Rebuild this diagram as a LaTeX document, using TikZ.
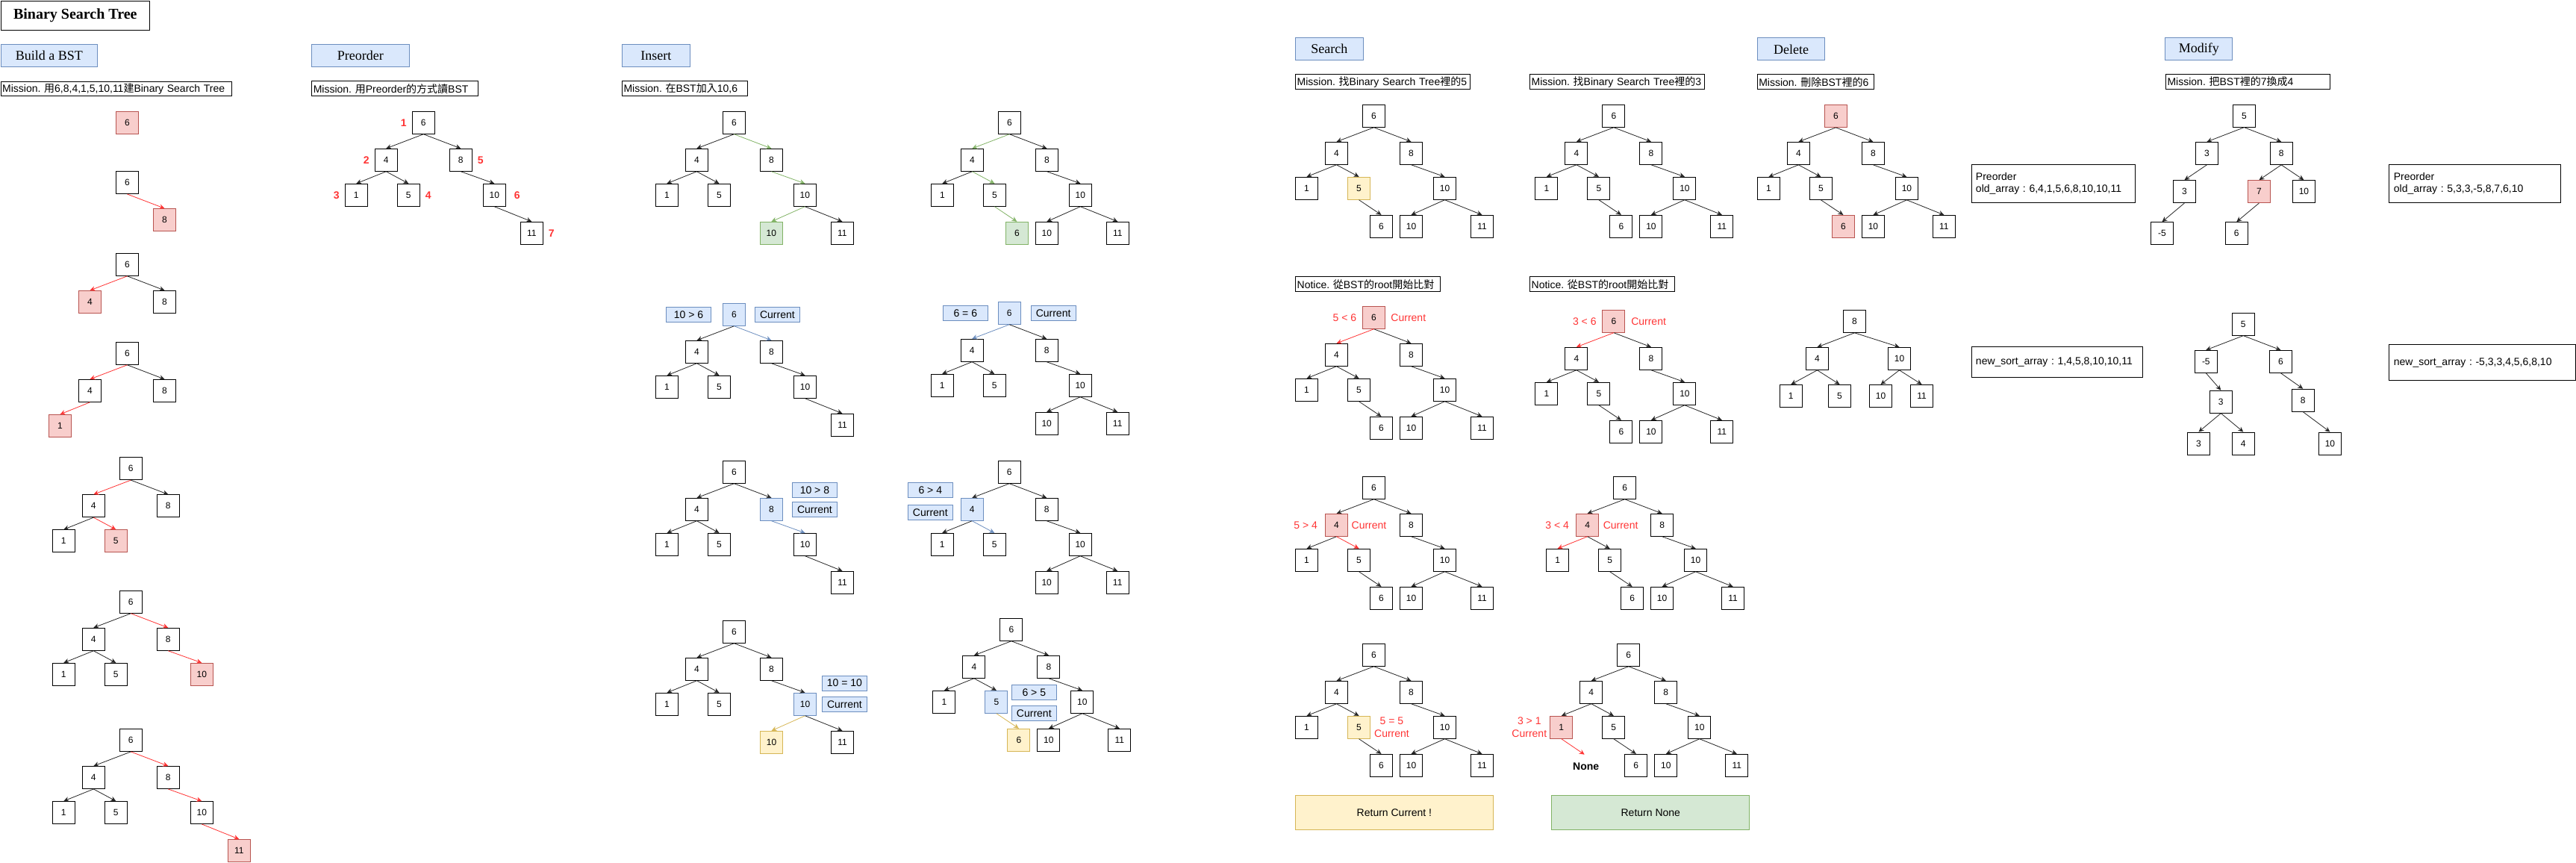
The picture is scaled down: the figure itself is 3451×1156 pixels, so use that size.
\documentclass[tikz,border=0pt]{standalone}
\usepackage{fontspec}
\setmainfont{Liberation Sans}
\newfontfamily\serif{Liberation Serif}
\newfontfamily\cjk{Noto Sans CJK TC}
\usepackage{xcolor}
\usetikzlibrary{arrows.meta,positioning}
\frenchspacing

\definecolor{bluefill}{HTML}{DAE8FC}
\definecolor{blueline}{HTML}{6C8EBF}
\definecolor{redfill}{HTML}{F8CECC}
\definecolor{redline}{HTML}{B85450}
\definecolor{greenfill}{HTML}{D5E8D4}
\definecolor{greenline}{HTML}{82B366}
\definecolor{yellowfill}{HTML}{FFF2CC}
\definecolor{yellowline}{HTML}{D6B656}
\definecolor{hot}{HTML}{FF3333}

\newcommand{\zh}[1]{{\cjk #1}}

\begin{document}
\begin{tikzpicture}[x=1pt,y=-1pt,>={Stealth[length=7pt,width=6.5pt]},
   font=\fontsize{12}{14}\selectfont,
   nd/.style={draw,line width=0.9pt,minimum size=30pt,inner sep=0pt},
   ndr/.style={nd,fill=redfill,draw=redline},
   ndg/.style={nd,fill=greenfill,draw=greenline},
   ndb/.style={nd,fill=bluefill,draw=blueline},
   ndy/.style={nd,fill=yellowfill,draw=yellowline},
   ed/.style={->,line width=0.8pt,black!85},
   edr/.style={ed,hot},
   edg/.style={ed,greenline},
   edb/.style={ed,blueline},
   edy/.style={ed,yellowline},
   hdr/.style={draw=blueline,fill=bluefill,line width=0.9pt,anchor=north west,minimum width=#1,
     minimum height=30pt,inner sep=0pt,font=\serif\fontsize{18}{20}\selectfont},
   mission/.style={draw,line width=0.9pt,anchor=north west,minimum height=20pt,inner xsep=2pt,
     inner ysep=0pt,text width=#1,align=left,font=\fontsize{14}{16}\selectfont},
   infobox/.style={draw,line width=0.9pt,anchor=north west,inner xsep=6pt,inner ysep=0pt,
     text width=#1,align=left,font=\fontsize{14}{16}\selectfont},
   cmp/.style={draw=blueline,fill=bluefill,line width=0.9pt,minimum width=60pt,minimum height=20pt,
     inner sep=0pt,font=\fontsize{14}{16}\selectfont},
   rnote/.style={text=hot,inner sep=0pt,font=\fontsize{14}{16.7}\selectfont,align=center},
   ordnum/.style={text=hot,inner sep=0pt,font=\bfseries\fontsize{14}{16}\selectfont},
   retbox/.style={line width=0.9pt,minimum width=265pt,minimum height=46pt,inner sep=0pt,
     font=\fontsize{14}{16}\selectfont}]
\useasboundingbox (0,0) rectangle (3451,1156);

\node[draw,line width=0.9pt,anchor=north west,minimum width=199.3pt,minimum height=39.2pt,inner sep=0pt,
  font=\serif\bfseries\fontsize{20}{22}\selectfont] (title) at (0.7,0.8) {Binary Search Tree};

% Build a BST
\node[hdr=129.6] (h-build) at (0.7,59.3) {Build a BST};
\node[mission=305.6,minimum height=19.5pt] (m-build) at (0.7,108.7)
  {Mission. \zh{用}6,8,4,1,5,10,11\zh{建}Binary Search Tree};
\begin{scope}[shift={(170.5,164.2)}]
  \node[ndr] (b1-r) at (0,0) {6};
\end{scope}
\begin{scope}[shift={(170.5,244.6)}]
  \node[nd]  (b2-r) at (0,0)   {6};
  \node[ndr] (b2-g) at (50,50) {8};
\end{scope}
\draw[edr] (b2-r.south) -- (b2-g.north);
\begin{scope}[shift={(170.5,354.4)}]
  \node[nd]  (b3-r) at (0,0)    {6};
  \node[ndr] (b3-l) at (-50,50) {4};
  \node[nd]  (b3-g) at (50,50)  {8};
\end{scope}
\foreach \p/\c/\s in {r/l/edr,r/g/ed}
  \draw[\s] (b3-\p.south) -- (b3-\c.north);
\begin{scope}[shift={(170.5,473.4)}]
  \node[nd]  (b4-r)  at (0,0)    {6};
  \node[nd]  (b4-l)  at (-50,50) {4};
  \node[nd]  (b4-g)  at (50,50)  {8};
  \node[ndr] (b4-ll) at (-90,97) {1};
\end{scope}
\foreach \p/\c/\s in {r/l/edr,r/g/ed,l/ll/edr}
  \draw[\s] (b4-\p.south) -- (b4-\c.north);
\begin{scope}[shift={(175.3,627.7)}]
  \node[nd]  (b5-r)  at (0,0)    {6};
  \node[nd]  (b5-l)  at (-50,50) {4};
  \node[nd]  (b5-g)  at (50,50)  {8};
  \node[nd]  (b5-ll) at (-90,97) {1};
  \node[ndr] (b5-lr) at (-20,97) {5};
\end{scope}
\foreach \p/\c/\s in {r/l/edr,r/g/ed,l/ll/ed,l/lr/edr}
  \draw[\s] (b5-\p.south) -- (b5-\c.north);
\begin{scope}[shift={(175.3,806.3)}]
  \node[nd]  (b6-r)  at (0,0)    {6};
  \node[nd]  (b6-l)  at (-50,50) {4};
  \node[nd]  (b6-g)  at (50,50)  {8};
  \node[nd]  (b6-ll) at (-90,97) {1};
  \node[nd]  (b6-lr) at (-20,97) {5};
  \node[ndr] (b6-gr) at (95,97)  {10};
\end{scope}
\foreach \p/\c/\s in {r/l/ed,r/g/edr,l/ll/ed,l/lr/ed,g/gr/edr}
  \draw[\s] (b6-\p.south) -- (b6-\c.north);
\begin{scope}[shift={(175.3,991.5)}]
  \node[nd]  (b7-r)   at (0,0)     {6};
  \node[nd]  (b7-l)   at (-50,50)  {4};
  \node[nd]  (b7-g)   at (50,50)   {8};
  \node[nd]  (b7-ll)  at (-90,97)  {1};
  \node[nd]  (b7-lr)  at (-20,97)  {5};
  \node[nd]  (b7-gr)  at (95,97)   {10};
  \node[ndr] (b7-grr) at (145,148) {11};
\end{scope}
\foreach \p/\c/\s in {r/l/ed,r/g/edr,l/ll/ed,l/lr/ed,g/gr/edr,gr/grr/edr}
  \draw[\s] (b7-\p.south) -- (b7-\c.north);

% Preorder
\node[hdr=130.4] (h-pre) at (417.3,59.3) {Preorder};
\node[mission=219] (m-pre) at (417.3,108.3) {Mission. \zh{用}Preorder\zh{的方式讀}BST};
\begin{scope}[shift={(567.3,164.3)}]
  \node[nd] (p-r)   at (0,0)     {6};
  \node[nd] (p-l)   at (-50,50)  {4};
  \node[nd] (p-g)   at (50,50)   {8};
  \node[nd] (p-ll)  at (-90,97)  {1};
  \node[nd] (p-lr)  at (-20,97)  {5};
  \node[nd] (p-gr)  at (95,97)   {10};
  \node[nd] (p-grr) at (145,148) {11};
\end{scope}
\foreach \p/\c in {r/l,r/g,l/ll,l/lr,g/gr,gr/grr}
  \draw[ed] (p-\p.south) -- (p-\c.north);
\node[ordnum,left=7pt of p-r]     (p-n1) {1};
\node[ordnum,left=7pt of p-l]     (p-n2) {2};
\node[ordnum,left=7pt of p-ll]    (p-n3) {3};
\node[ordnum,right=7pt of p-lr]   (p-n4) {4};
\node[ordnum,right=7pt of p-g]    (p-n5) {5};
\node[ordnum,right=11pt of p-gr]  (p-n6) {6};
\node[ordnum,right=7pt of p-grr]  (p-n7) {7};

% Insert
\node[hdr=90.4] (h-ins) at (833.1,59.3) {Insert};
\node[mission=163.5] (m-ins) at (833.1,108.3) {Mission. \zh{在}BST\zh{加入}10,6};
\begin{scope}[shift={(983.4,164.3)}]
  \node[nd]  (i1-r)   at (0,0)     {6};
  \node[nd]  (i1-l)   at (-50,50)  {4};
  \node[nd]  (i1-g)   at (50,50)   {8};
  \node[nd]  (i1-ll)  at (-90,97)  {1};
  \node[nd]  (i1-lr)  at (-20,97)  {5};
  \node[nd]  (i1-gr)  at (95,97)   {10};
  \node[ndg] (i1-grl) at (50,148)  {10};
  \node[nd]  (i1-grr) at (145,148) {11};
\end{scope}
\foreach \p/\c/\s in {r/l/ed,r/g/edg,l/ll/ed,l/lr/ed,g/gr/edg,gr/grl/edg,gr/grr/ed}
  \draw[\s] (i1-\p.south) -- (i1-\c.north);
\begin{scope}[shift={(1352.4,164.3)}]
  \node[nd]  (i2-r)   at (0,0)     {6};
  \node[nd]  (i2-l)   at (-50,50)  {4};
  \node[nd]  (i2-g)   at (50,50)   {8};
  \node[nd]  (i2-ll)  at (-90,97)  {1};
  \node[nd]  (i2-lr)  at (-20,97)  {5};
  \node[nd]  (i2-gr)  at (95,97)   {10};
  \node[ndg] (i2-lrr) at (10,148)  {6};
  \node[nd]  (i2-grl) at (50,148)  {10};
  \node[nd]  (i2-grr) at (145,148) {11};
\end{scope}
\foreach \p/\c/\s in {r/l/edg,r/g/ed,l/ll/ed,l/lr/edg,lr/lrr/edg,g/gr/ed,gr/grl/ed,gr/grr/ed}
  \draw[\s] (i2-\p.south) -- (i2-\c.north);
\begin{scope}[shift={(983.5,421.3)}]
  \node[ndb] (i3-r)   at (0,0)     {6};
  \node[nd]  (i3-l)   at (-50,50)  {4};
  \node[nd]  (i3-g)   at (50,50)   {8};
  \node[nd]  (i3-ll)  at (-90,97)  {1};
  \node[nd]  (i3-lr)  at (-20,97)  {5};
  \node[nd]  (i3-gr)  at (95,97)   {10};
  \node[nd]  (i3-grr) at (145,148) {11};
\end{scope}
\foreach \p/\c/\s in {r/l/ed,r/g/edb,l/ll/ed,l/lr/ed,g/gr/ed,gr/grr/ed}
  \draw[\s] (i3-\p.south) -- (i3-\c.north);
\node[cmp,left=15pt of i3-r]  (i3-cmp) {10 > 6};
\node[cmp,right=12pt of i3-r] (i3-cur) {Current};
\begin{scope}[shift={(1352.2,419.3)}]
  \node[ndb] (i4-r)   at (0,0)     {6};
  \node[nd]  (i4-l)   at (-50,50)  {4};
  \node[nd]  (i4-g)   at (50,50)   {8};
  \node[nd]  (i4-ll)  at (-90,97)  {1};
  \node[nd]  (i4-lr)  at (-20,97)  {5};
  \node[nd]  (i4-gr)  at (95,97)   {10};
  \node[nd]  (i4-grl) at (50,148)  {10};
  \node[nd]  (i4-grr) at (145,148) {11};
\end{scope}
\foreach \p/\c/\s in {r/l/edb,r/g/ed,l/ll/ed,l/lr/ed,g/gr/ed,gr/grl/ed,gr/grr/ed}
  \draw[\s] (i4-\p.south) -- (i4-\c.north);
\node[cmp,left=13pt of i4-r]  (i4-cmp) {6 = 6};
\node[cmp,right=13pt of i4-r] (i4-cur) {Current};
\begin{scope}[shift={(983.5,632.3)}]
  \node[nd]  (i5-r)   at (0,0)     {6};
  \node[nd]  (i5-l)   at (-50,50)  {4};
  \node[ndb] (i5-g)   at (50,50)   {8};
  \node[nd]  (i5-ll)  at (-90,97)  {1};
  \node[nd]  (i5-lr)  at (-20,97)  {5};
  \node[nd]  (i5-gr)  at (95,97)   {10};
  \node[nd]  (i5-grr) at (145,148) {11};
\end{scope}
\foreach \p/\c/\s in {r/l/ed,r/g/ed,l/ll/ed,l/lr/ed,g/gr/edb,gr/grr/ed}
  \draw[\s] (i5-\p.south) -- (i5-\c.north);
\node[cmp,right=12pt of i5-g]    (i5-cur) {Current};
\node[cmp,above=4.7pt of i5-cur] (i5-cmp) {10 > 8};
\begin{scope}[shift={(1352.2,632.3)}]
  \node[nd]  (i6-r)   at (0,0)     {6};
  \node[ndb] (i6-l)   at (-50,50)  {4};
  \node[nd]  (i6-g)   at (50,50)   {8};
  \node[nd]  (i6-ll)  at (-90,97)  {1};
  \node[nd]  (i6-lr)  at (-20,97)  {5};
  \node[nd]  (i6-gr)  at (95,97)   {10};
  \node[nd]  (i6-grl) at (50,148)  {10};
  \node[nd]  (i6-grr) at (145,148) {11};
\end{scope}
\foreach \p/\c/\s in {r/l/ed,r/g/ed,l/ll/ed,l/lr/edb,g/gr/ed,gr/grl/ed,gr/grr/ed}
  \draw[\s] (i6-\p.south) -- (i6-\c.north);
\node[cmp,left=10pt of i6-l,yshift=-4pt] (i6-cur) {Current};
\node[cmp,above=9pt of i6-cur]           (i6-cmp) {6 > 4};
\begin{scope}[shift={(983.5,846.3)}]
  \node[nd]  (i7-r)   at (0,0)     {6};
  \node[nd]  (i7-l)   at (-50,50)  {4};
  \node[nd]  (i7-g)   at (50,50)   {8};
  \node[nd]  (i7-ll)  at (-90,97)  {1};
  \node[nd]  (i7-lr)  at (-20,97)  {5};
  \node[ndb] (i7-gr)  at (95,97)   {10};
  \node[ndy] (i7-grl) at (50,148)  {10};
  \node[nd]  (i7-grr) at (145,148) {11};
\end{scope}
\foreach \p/\c/\s in {r/l/ed,r/g/ed,l/ll/ed,l/lr/ed,g/gr/ed,gr/grl/edy,gr/grr/ed}
  \draw[\s] (i7-\p.south) -- (i7-\c.north);
\node[cmp,right=7pt of i7-gr]    (i7-cur) {Current};
\node[cmp,above=7.4pt of i7-cur] (i7-cmp) {10 = 10};
\begin{scope}[shift={(1354.9,843.3)}]
  \node[nd]  (i8-r)   at (0,0)     {6};
  \node[nd]  (i8-l)   at (-50,50)  {4};
  \node[nd]  (i8-g)   at (50,50)   {8};
  \node[nd]  (i8-ll)  at (-90,97)  {1};
  \node[ndb] (i8-lr)  at (-20,97)  {5};
  \node[nd]  (i8-gr)  at (95,97)   {10};
  \node[ndy] (i8-lrr) at (10,148)  {6};
  \node[nd]  (i8-grl) at (50,148)  {10};
  \node[nd]  (i8-grr) at (145,148) {11};
\end{scope}
\foreach \p/\c/\s in {r/l/ed,r/g/ed,l/ll/ed,l/lr/ed,lr/lrr/edy,g/gr/ed,gr/grl/ed,gr/grr/ed}
  \draw[\s] (i8-\p.south) -- (i8-\c.north);
\node[cmp,right=4.5pt of i8-lr,yshift=-15pt] (i8-cur) {Current};
\node[cmp,above=6.7pt of i8-cur]             (i8-cmp) {6 > 5};

% Search
\node[hdr=90.4] (h-sea) at (1735.2,50.3) {Search};
\node[mission=230.1] (m-sea1) at (1735.2,99.3) {Mission. \zh{找}Binary Search Tree\zh{裡的}5};
\node[mission=230.2] (m-sea2) at (2049.2,99.3) {Mission. \zh{找}Binary Search Tree\zh{裡的}3};
\node[mission=190.2] (n-sea1) at (1735.2,370.3) {Notice. \zh{從}BST\zh{的}root\zh{開始比對}};
\node[mission=190.2] (n-sea2) at (2049.2,370.3) {Notice. \zh{從}BST\zh{的}root\zh{開始比對}};
\begin{scope}[shift={(1840.5,155.3)}]
  \node[nd]  (s1-r)   at (0,0)     {6};
  \node[nd]  (s1-l)   at (-50,50)  {4};
  \node[nd]  (s1-g)   at (50,50)   {8};
  \node[nd]  (s1-ll)  at (-90,97)  {1};
  \node[ndy] (s1-lr)  at (-20,97)  {5};
  \node[nd]  (s1-gr)  at (95,97)   {10};
  \node[nd]  (s1-lrr) at (10,148)  {6};
  \node[nd]  (s1-grl) at (50,148)  {10};
  \node[nd]  (s1-grr) at (145,148) {11};
\end{scope}
\begin{scope}[shift={(2161.9,155.3)}]
  \node[nd] (s2-r)   at (0,0)     {6};
  \node[nd] (s2-l)   at (-50,50)  {4};
  \node[nd] (s2-g)   at (50,50)   {8};
  \node[nd] (s2-ll)  at (-90,97)  {1};
  \node[nd] (s2-lr)  at (-20,97)  {5};
  \node[nd] (s2-gr)  at (95,97)   {10};
  \node[nd] (s2-lrr) at (10,148)  {6};
  \node[nd] (s2-grl) at (50,148)  {10};
  \node[nd] (s2-grr) at (145,148) {11};
\end{scope}
\begin{scope}[shift={(1840.5,425.3)}]
  \node[ndr] (s3-r)   at (0,0)     {6};
  \node[nd]  (s3-l)   at (-50,50)  {4};
  \node[nd]  (s3-g)   at (50,50)   {8};
  \node[nd]  (s3-ll)  at (-90,97)  {1};
  \node[nd]  (s3-lr)  at (-20,97)  {5};
  \node[nd]  (s3-gr)  at (95,97)   {10};
  \node[nd]  (s3-lrr) at (10,148)  {6};
  \node[nd]  (s3-grl) at (50,148)  {10};
  \node[nd]  (s3-grr) at (145,148) {11};
\end{scope}
\node[rnote,left=7.7pt of s3-r]  (s3-cmp) {5 < 6};
\node[rnote,right=7.3pt of s3-r] (s3-cur) {Current};
\begin{scope}[shift={(2161.9,430.3)}]
  \node[ndr] (s4-r)   at (0,0)     {6};
  \node[nd]  (s4-l)   at (-50,50)  {4};
  \node[nd]  (s4-g)   at (50,50)   {8};
  \node[nd]  (s4-ll)  at (-90,97)  {1};
  \node[nd]  (s4-lr)  at (-20,97)  {5};
  \node[nd]  (s4-gr)  at (95,97)   {10};
  \node[nd]  (s4-lrr) at (10,148)  {6};
  \node[nd]  (s4-grl) at (50,148)  {10};
  \node[nd]  (s4-grr) at (145,148) {11};
\end{scope}
\node[rnote,left=7.7pt of s4-r]  (s4-cmp) {3 < 6};
\node[rnote,right=7.7pt of s4-r] (s4-cur) {Current};
\begin{scope}[shift={(1840.5,653.3)}]
  \node[nd]  (s5-r)   at (0,0)     {6};
  \node[ndr] (s5-l)   at (-50,50)  {4};
  \node[nd]  (s5-g)   at (50,50)   {8};
  \node[nd]  (s5-ll)  at (-90,97)  {1};
  \node[nd]  (s5-lr)  at (-20,97)  {5};
  \node[nd]  (s5-gr)  at (95,97)   {10};
  \node[nd]  (s5-lrr) at (10,148)  {6};
  \node[nd]  (s5-grl) at (50,148)  {10};
  \node[nd]  (s5-grr) at (145,148) {11};
\end{scope}
\node[rnote,left=10pt of s5-l]   (s5-cmp) {5 > 4};
\node[rnote,right=4.5pt of s5-l] (s5-cur) {Current};
\begin{scope}[shift={(2176.6,653.3)}]
  \node[nd]  (s6-r)   at (0,0)     {6};
  \node[ndr] (s6-l)   at (-50,50)  {4};
  \node[nd]  (s6-g)   at (50,50)   {8};
  \node[nd]  (s6-ll)  at (-90,97)  {1};
  \node[nd]  (s6-lr)  at (-20,97)  {5};
  \node[nd]  (s6-gr)  at (95,97)   {10};
  \node[nd]  (s6-lrr) at (10,148)  {6};
  \node[nd]  (s6-grl) at (50,148)  {10};
  \node[nd]  (s6-grr) at (145,148) {11};
\end{scope}
\node[rnote,left=9pt of s6-l]    (s6-cmp) {3 < 4};
\node[rnote,right=5.5pt of s6-l] (s6-cur) {Current};
\begin{scope}[shift={(1840.5,877.3)}]
  \node[nd]  (s7-r)   at (0,0)     {6};
  \node[nd]  (s7-l)   at (-50,50)  {4};
  \node[nd]  (s7-g)   at (50,50)   {8};
  \node[nd]  (s7-ll)  at (-90,97)  {1};
  \node[ndy] (s7-lr)  at (-20,97)  {5};
  \node[nd]  (s7-gr)  at (95,97)   {10};
  \node[nd]  (s7-lrr) at (10,148)  {6};
  \node[nd]  (s7-grl) at (50,148)  {10};
  \node[nd]  (s7-grr) at (145,148) {11};
\end{scope}
\node[rnote,right=5pt of s7-lr] (s7-cur) {5 = 5\\Current};
\begin{scope}[shift={(2181.8,877.3)}]
  \node[nd]  (s8-r)   at (0,0)     {6};
  \node[nd]  (s8-l)   at (-50,50)  {4};
  \node[nd]  (s8-g)   at (50,50)   {8};
  \node[ndr] (s8-ll)  at (-90,97)  {1};
  \node[nd]  (s8-lr)  at (-20,97)  {5};
  \node[nd]  (s8-gr)  at (95,97)   {10};
  \node[nd]  (s8-lrr) at (10,148)  {6};
  \node[nd]  (s8-grl) at (50,148)  {10};
  \node[nd]  (s8-grr) at (145,148) {11};
  \coordinate (s8-end) at (-59.1,133.4);
  \node[inner sep=0pt,font=\bfseries\fontsize{14}{16}\selectfont] (s8-none) at (-57.1,149.7) {None};
\end{scope}
\node[rnote,left=4pt of s8-ll] (s8-cur) {3 > 1\\Current};
\draw[edr] (s8-ll.south) -- (s8-end);
\foreach \t in {s1,s2,s7,s8}
  \foreach \p/\c in {r/l,r/g,l/ll,l/lr,lr/lrr,g/gr,gr/grl,gr/grr}
    \draw[ed] (\t-\p.south) -- (\t-\c.north);
\foreach \t in {s3,s4}
  \foreach \p/\c/\s in {r/l/edr,r/g/ed,l/ll/ed,l/lr/ed,lr/lrr/ed,g/gr/ed,gr/grl/ed,gr/grr/ed}
    \draw[\s] (\t-\p.south) -- (\t-\c.north);
\foreach \p/\c/\s in {r/l/ed,r/g/ed,l/ll/ed,l/lr/edr,lr/lrr/ed,g/gr/ed,gr/grl/ed,gr/grr/ed}
  \draw[\s] (s5-\p.south) -- (s5-\c.north);
\foreach \p/\c/\s in {r/l/ed,r/g/ed,l/ll/edr,l/lr/ed,lr/lrr/ed,g/gr/ed,gr/grl/ed,gr/grr/ed}
  \draw[\s] (s6-\p.south) -- (s6-\c.north);
\node[retbox,draw=yellowline,fill=yellowfill] (ret-cur)  at (1867.9,1088.3) {Return Current !};
\node[retbox,draw=greenline,fill=greenfill]   (ret-none) at (2211.3,1088.3) {Return None};

% Delete
\node[hdr=90.6] (h-del) at (2353.8,50.4) {Delete};
\node[mission=152.6] (m-del) at (2353.8,99.3) {Mission. \zh{刪除}BST\zh{裡的}6};
\begin{scope}[shift={(2459.4,155.4)}]
  \node[ndr] (d1-r)   at (0,0)     {6};
  \node[nd]  (d1-l)   at (-50,50)  {4};
  \node[nd]  (d1-g)   at (50,50)   {8};
  \node[nd]  (d1-ll)  at (-90,97)  {1};
  \node[nd]  (d1-lr)  at (-20,97)  {5};
  \node[nd]  (d1-gr)  at (95,97)   {10};
  \node[ndr] (d1-lrr) at (10,148)  {6};
  \node[nd]  (d1-grl) at (50,148)  {10};
  \node[nd]  (d1-grr) at (145,148) {11};
\end{scope}
\foreach \p/\c in {r/l,r/g,l/ll,l/lr,lr/lrr,g/gr,gr/grl,gr/grr}
  \draw[ed] (d1-\p.south) -- (d1-\c.north);
\node[infobox=207.9,minimum height=51pt] (d-old) at (2640.5,220.4)
  {Preorder\\old\_array : 6,4,1,5,6,8,10,10,11};
\begin{scope}[shift={(2484.5,430.4)}]
  \node[nd] (d2-r)  at (0,0)       {8};
  \node[nd] (d2-l)  at (-50,50)    {4};
  \node[nd] (d2-g)  at (60,50)     {10};
  \node[nd] (d2-ll) at (-85.2,100) {1};
  \node[nd] (d2-lr) at (-20,100)   {5};
  \node[nd] (d2-gl) at (35,100)    {10};
  \node[nd] (d2-gr) at (90,100)    {11};
\end{scope}
\foreach \p/\c in {r/l,r/g,l/ll,l/lr,g/gl,g/gr}
  \draw[ed] (d2-\p.south) -- (d2-\c.north);
\node[infobox=217.7,minimum height=41pt] (d-new) at (2640.5,464.3)
  {new\_sort\_array : 1,4,5,8,10,10,11};

% Modify
\node[hdr=90.1] (h-mod) at (2900.3,50.3) {Modify};
\node[mission=216.1] (m-mod) at (2901.1,99.2) {Mission. \zh{把}BST\zh{裡的}7\zh{換成}4};
\begin{scope}[shift={(3006.4,155.2)}]
  \node[nd]  (m1-r)   at (0,0)          {5};
  \node[nd]  (m1-l)   at (-50,50.2)     {3};
  \node[nd]  (m1-g)   at (49.8,50.2)    {8};
  \node[nd]  (m1-ll)  at (-80,101.4)    {3};
  \node[ndr] (m1-gl)  at (20,101.4)     {7};
  \node[nd]  (m1-gr)  at (80,101.4)     {10};
  \node[nd]  (m1-lll) at (-110,157.5)   {-5};
  \node[nd]  (m1-gll) at (-10.2,157.5)  {6};
\end{scope}
\foreach \p/\c in {r/l,r/g,l/ll,ll/lll,g/gl,g/gr,gl/gll}
  \draw[ed] (m1-\p.south) -- (m1-\c.north);
\node[infobox=217.9,minimum height=51pt] (m-old) at (3200.4,220.3)
  {Preorder\\old\_array : 5,3,3,-5,8,7,6,10};
\begin{scope}[shift={(3005.3,434.2)}]
  \node[nd] (m2-r)   at (0,0)          {5};
  \node[nd] (m2-l)   at (-50,50.1)     {-5};
  \node[nd] (m2-g)   at (50.1,50.1)    {6};
  \node[nd] (m2-lr)  at (-30,104)      {3};
  \node[nd] (m2-gr)  at (79.9,102)     {8};
  \node[nd] (m2-lrl) at (-59.9,159.8)  {3};
  \node[nd] (m2-lrr) at (0,159.8)      {4};
  \node[nd] (m2-grr) at (116.1,159.8)  {10};
\end{scope}
\foreach \p/\c in {r/l,r/g,l/lr,g/gr,lr/lrl,lr/lrr,gr/grr}
  \draw[ed] (m2-\p.south) -- (m2-\c.north);
\node[infobox=237.9,minimum height=48pt] (m-new) at (3200.4,461.4)
  {new\_sort\_array : -5,3,3,4,5,6,8,10};
\end{tikzpicture}
\end{document}
